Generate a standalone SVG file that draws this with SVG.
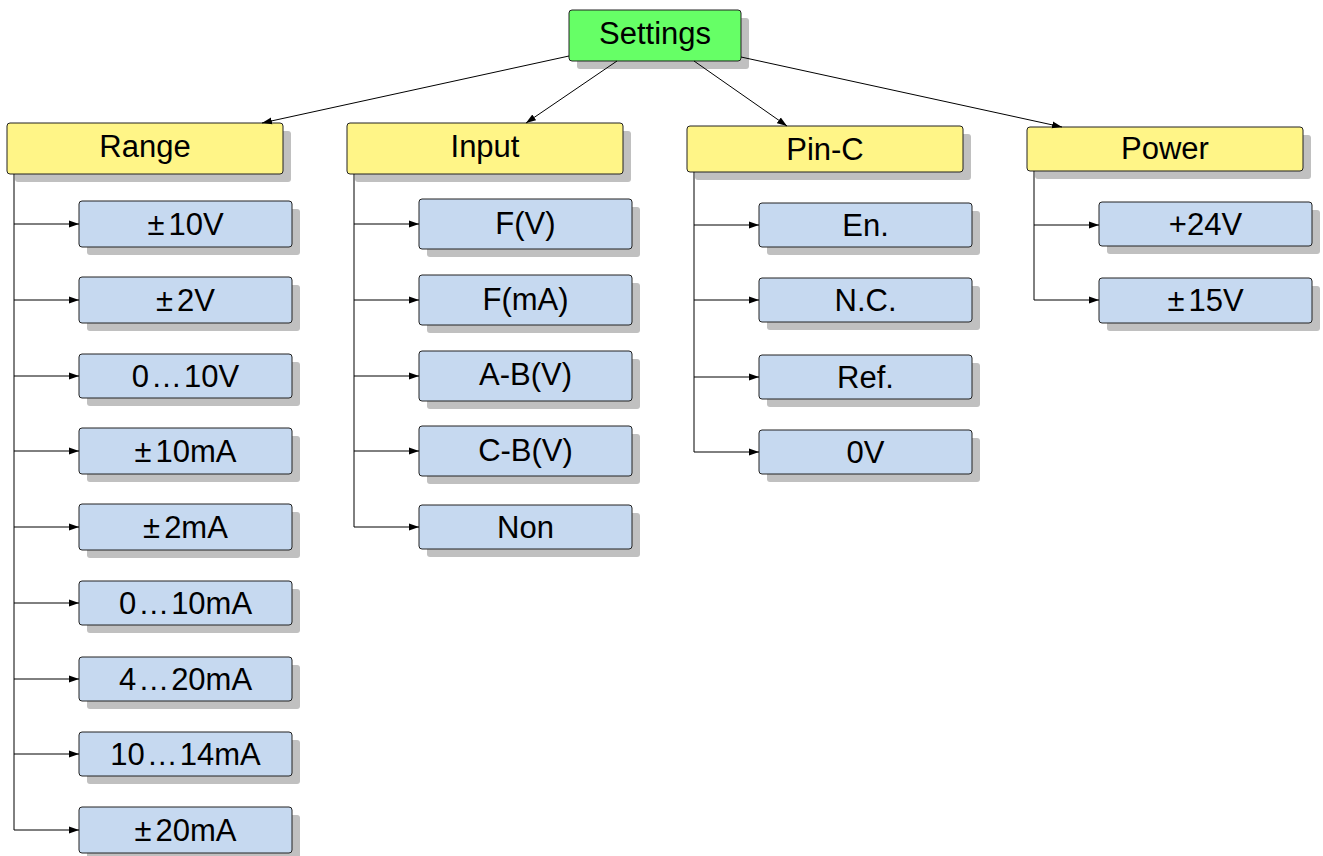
<svg xmlns="http://www.w3.org/2000/svg" width="1323" height="856" viewBox="0 0 1323 856">
<defs>
<marker id="ah" markerUnits="userSpaceOnUse" markerWidth="12" markerHeight="8" refX="10" refY="4" orient="auto"><path d="M0,0.5 L10,4 L0,7.5 Z" fill="#000"/></marker>
</defs>
<style>
.sh{fill:#c0c0c0}
.root{fill:#66ff66;stroke:#222;stroke-width:1}
.hd{fill:#fff587;stroke:#222;stroke-width:1}
.lf{fill:#c6d9f0;stroke:#222;stroke-width:1}
text{font-family:"Liberation Sans",Arial,sans-serif;font-size:31px;fill:#000;text-anchor:middle}
.c{fill:none;stroke:#000;stroke-width:1}
</style>
<rect width="1323" height="856" fill="#fff"/>
<g id="settings"><rect class="sh" x="577" y="18" width="172" height="51" rx="3"/><rect class="root" x="569" y="10" width="172" height="51" rx="3"/><text x="655" y="44">Settings</text></g>
<g id="range"><rect class="sh" x="15" y="131" width="276" height="51" rx="3"/><rect class="hd" x="7" y="123" width="276" height="51" rx="3"/><text x="145" y="157">Range</text></g>
<g id="input"><rect class="sh" x="355" y="131" width="276" height="51" rx="3"/><rect class="hd" x="347" y="123" width="276" height="51" rx="3"/><text x="485" y="157">Input</text></g>
<g id="pinc"><rect class="sh" x="695" y="134" width="276" height="46" rx="3"/><rect class="hd" x="687" y="126" width="276" height="46" rx="3"/><text x="825" y="160">Pin-C</text></g>
<g id="power"><rect class="sh" x="1035" y="135" width="276" height="44" rx="3"/><rect class="hd" x="1027" y="127" width="276" height="44" rx="3"/><text x="1165" y="159">Power</text></g>

<g id="r1"><rect class="sh" x="87" y="209" width="213" height="46" rx="3"/><rect class="lf" x="79" y="201" width="213" height="46" rx="3"/><text x="185.5" y="235"><tspan>±</tspan><tspan dx="4">10V</tspan></text></g>
<g id="r2"><rect class="sh" x="87" y="285" width="213" height="46" rx="3"/><rect class="lf" x="79" y="277" width="213" height="46" rx="3"/><text x="185.5" y="311"><tspan>±</tspan><tspan dx="4">2V</tspan></text></g>
<g id="r3"><rect class="sh" x="87" y="362" width="213" height="44" rx="3"/><rect class="lf" x="79" y="354" width="213" height="44" rx="3"/><text x="185.5" y="387">0<tspan dx="2">…</tspan><tspan dx="2">10V</tspan></text></g>
<g id="r4"><rect class="sh" x="87" y="436" width="213" height="46" rx="3"/><rect class="lf" x="79" y="428" width="213" height="46" rx="3"/><text x="185.5" y="462"><tspan>±</tspan><tspan dx="4">10mA</tspan></text></g>
<g id="r5"><rect class="sh" x="87" y="512" width="213" height="46" rx="3"/><rect class="lf" x="79" y="504" width="213" height="46" rx="3"/><text x="185.5" y="538"><tspan>±</tspan><tspan dx="4">2mA</tspan></text></g>
<g id="r6"><rect class="sh" x="87" y="589" width="213" height="44" rx="3"/><rect class="lf" x="79" y="581" width="213" height="44" rx="3"/><text x="185.5" y="614">0<tspan dx="2">…</tspan><tspan dx="2">10mA</tspan></text></g>
<g id="r7"><rect class="sh" x="87" y="665" width="213" height="44" rx="3"/><rect class="lf" x="79" y="657" width="213" height="44" rx="3"/><text x="185.5" y="690">4<tspan dx="2">…</tspan><tspan dx="2">20mA</tspan></text></g>
<g id="r8"><rect class="sh" x="87" y="740" width="213" height="44" rx="3"/><rect class="lf" x="79" y="732" width="213" height="44" rx="3"/><text x="185.5" y="765">10<tspan dx="2">…</tspan><tspan dx="2">14mA</tspan></text></g>
<g id="r9"><rect class="sh" x="87" y="815" width="213" height="46" rx="3"/><rect class="lf" x="79" y="807" width="213" height="46" rx="3"/><text x="185.5" y="841"><tspan>±</tspan><tspan dx="4">20mA</tspan></text></g>

<g id="i1"><rect class="sh" x="427" y="207" width="213" height="50" rx="3"/><rect class="lf" x="419" y="199" width="213" height="50" rx="3"/><text x="525.5" y="234">F(V)</text></g>
<g id="i2"><rect class="sh" x="427" y="283" width="213" height="50" rx="3"/><rect class="lf" x="419" y="275" width="213" height="50" rx="3"/><text x="525.5" y="310">F(mA)</text></g>
<g id="i3"><rect class="sh" x="427" y="359" width="213" height="50" rx="3"/><rect class="lf" x="419" y="351" width="213" height="50" rx="3"/><text x="525.5" y="385">A-B(V)</text></g>
<g id="i4"><rect class="sh" x="427" y="434" width="213" height="50" rx="3"/><rect class="lf" x="419" y="426" width="213" height="50" rx="3"/><text x="525.5" y="461">C-B(V)</text></g>
<g id="i5"><rect class="sh" x="427" y="513" width="213" height="44" rx="3"/><rect class="lf" x="419" y="505" width="213" height="44" rx="3"/><text x="525.5" y="538">Non</text></g>

<g id="p1"><rect class="sh" x="767" y="211" width="213" height="44" rx="3"/><rect class="lf" x="759" y="203" width="213" height="44" rx="3"/><text x="865.5" y="236">En.</text></g>
<g id="p2"><rect class="sh" x="767" y="286" width="213" height="44" rx="3"/><rect class="lf" x="759" y="278" width="213" height="44" rx="3"/><text x="865.5" y="311">N.C.</text></g>
<g id="p3"><rect class="sh" x="767" y="363" width="213" height="44" rx="3"/><rect class="lf" x="759" y="355" width="213" height="44" rx="3"/><text x="865.5" y="388">Ref.</text></g>
<g id="p4"><rect class="sh" x="767" y="438" width="213" height="44" rx="3"/><rect class="lf" x="759" y="430" width="213" height="44" rx="3"/><text x="865.5" y="463">0V</text></g>

<g id="w1"><rect class="sh" x="1107" y="210" width="213" height="44" rx="3"/><rect class="lf" x="1099" y="202" width="213" height="44" rx="3"/><text x="1205.5" y="235">+24V</text></g>
<g id="w2"><rect class="sh" x="1107" y="286" width="213" height="45" rx="3"/><rect class="lf" x="1099" y="278" width="213" height="45" rx="3"/><text x="1205.5" y="311"><tspan>±</tspan><tspan dx="4">15V</tspan></text></g>

<g id="connectors">
<path class="c" marker-end="url(#ah)" d="M569,56 L262,123"/>
<path class="c" marker-end="url(#ah)" d="M617,61 L526,123"/>
<path class="c" marker-end="url(#ah)" d="M694,61 L787,126"/>
<path class="c" marker-end="url(#ah)" d="M741,57 L1062,127"/>
<path class="c" d="M14,174 V830"/>
<path class="c" marker-end="url(#ah)" d="M14,224 H79"/>
<path class="c" marker-end="url(#ah)" d="M14,300 H79"/>
<path class="c" marker-end="url(#ah)" d="M14,376 H79"/>
<path class="c" marker-end="url(#ah)" d="M14,451 H79"/>
<path class="c" marker-end="url(#ah)" d="M14,527 H79"/>
<path class="c" marker-end="url(#ah)" d="M14,603 H79"/>
<path class="c" marker-end="url(#ah)" d="M14,679 H79"/>
<path class="c" marker-end="url(#ah)" d="M14,754 H79"/>
<path class="c" marker-end="url(#ah)" d="M14,830 H79"/>
<path class="c" d="M354,174 V527"/>
<path class="c" marker-end="url(#ah)" d="M354,224 H419"/>
<path class="c" marker-end="url(#ah)" d="M354,300 H419"/>
<path class="c" marker-end="url(#ah)" d="M354,376 H419"/>
<path class="c" marker-end="url(#ah)" d="M354,451 H419"/>
<path class="c" marker-end="url(#ah)" d="M354,527 H419"/>
<path class="c" d="M694,172 V452"/>
<path class="c" marker-end="url(#ah)" d="M694,225 H759"/>
<path class="c" marker-end="url(#ah)" d="M694,300 H759"/>
<path class="c" marker-end="url(#ah)" d="M694,377 H759"/>
<path class="c" marker-end="url(#ah)" d="M694,452 H759"/>
<path class="c" d="M1034,171 V300"/>
<path class="c" marker-end="url(#ah)" d="M1034,225 H1099"/>
<path class="c" marker-end="url(#ah)" d="M1034,300 H1099"/>
</g>
</svg>
